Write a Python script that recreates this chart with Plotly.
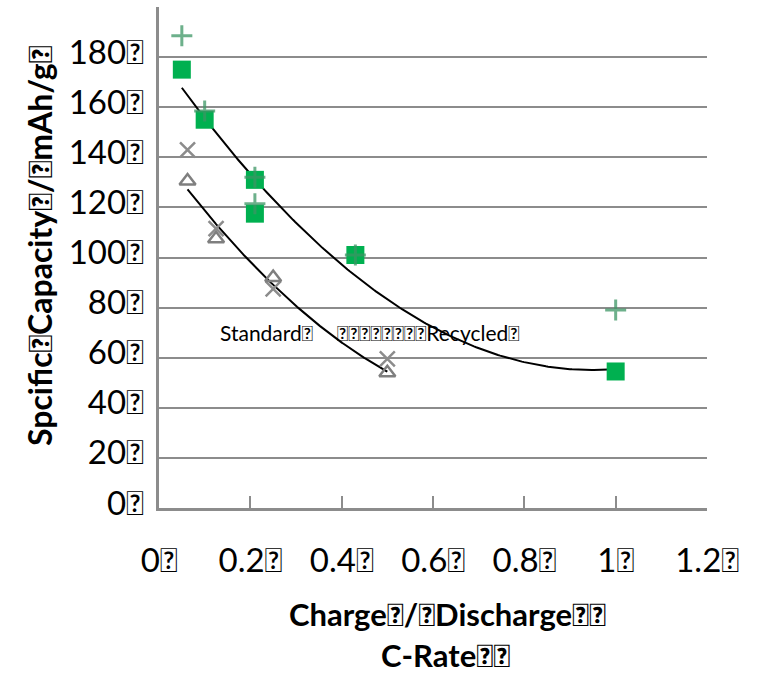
import numpy as np
import plotly.graph_objects as go

T = "\ue000"  # glyph missing from fonts -> renders as a box

# Recycled (green) series
rec_sq_x = [0.05, 0.10, 0.21, 0.21, 0.43, 1.00]
rec_sq_y = [175, 155, 131, 117.5, 101, 54.5]
rec_pl_x = [0.05, 0.10, 0.21, 0.21, 0.43, 1.00]
rec_pl_y = [188.5, 158.5, 132, 121.5, 101, 79]

# Standard (gray) series
std_x_x = [0.0625, 0.125, 0.25, 0.50]
std_x_y = [143, 111.5, 87.5, 59.5]
std_tr_x = [0.0625, 0.125, 0.25, 0.50]
std_tr_y = [130.5, 107.5, 92, 54]

x_ticks = [0, 0.2, 0.4, 0.6, 0.8, 1.0, 1.2]
x_tick_text = ["0", "0.2", "0.4", "0.6", "0.8", "1", "1.2"]
y_ticks = [0, 20, 40, 60, 80, 100, 120, 140, 160, 180]

FONT = "Lato"

def trend(xs, ys):
    c = np.polyfit(xs, ys, 2)
    xx = np.linspace(min(xs), max(xs), 200)
    return xx, np.polyval(c, xx)

fig = go.Figure()

tx, ty = trend(rec_sq_x, rec_sq_y)
fig.add_trace(go.Scatter(x=tx, y=ty, mode="lines", line=dict(color="black", width=2), showlegend=False))
tx, ty = trend(std_tr_x, std_tr_y)
fig.add_trace(go.Scatter(x=tx, y=ty, mode="lines", line=dict(color="black", width=2), showlegend=False))

fig.add_trace(go.Scatter(x=rec_sq_x, y=rec_sq_y, mode="markers",
                         marker=dict(symbol="square", size=18, color="#00B050", line=dict(width=0)),
                         showlegend=False))
fig.add_trace(go.Scatter(x=rec_pl_x, y=rec_pl_y, mode="markers",
                         marker=dict(symbol="cross-thin-open", size=15, color="rgba(60,150,100,0.75)",
                                     line=dict(width=3, color="rgba(60,150,100,0.75)")),
                         showlegend=False))
fig.add_trace(go.Scatter(x=std_x_x, y=std_x_y, mode="markers",
                         marker=dict(symbol="x-thin-open", size=15, color="#8C8C8C",
                                     line=dict(width=2.5, color="#8C8C8C")),
                         showlegend=False))
fig.add_trace(go.Scatter(x=std_tr_x, y=std_tr_y, mode="markers",
                         marker=dict(symbol="triangle-up-open", size=14, color="#7F7F7F",
                                     line=dict(width=2.5, color="#7F7F7F")),
                         showlegend=False))

fig.update_layout(
    width=765, height=674,
    margin=dict(l=159, r=58, t=7, b=166),
    paper_bgcolor="white", plot_bgcolor="white",
    font=dict(family=FONT, color="black"),
    xaxis=dict(range=[0, 1.2], tickvals=x_ticks, ticktext=[t + T for t in x_tick_text],
               ticks="inside", ticklen=12, tickwidth=2, tickcolor="#8C8C8C",
               showgrid=False, zeroline=False, showline=True, linecolor="#8C8C8C", linewidth=2.5,
               tickfont=dict(size=33, family=FONT), ticklabelstandoff=22),
    yaxis=dict(range=[0, 200], tickvals=y_ticks, ticktext=[str(v) + T for v in y_ticks],
               ticks="", showgrid=True, gridcolor="#8C8C8C", gridwidth=2, zeroline=False,
               showline=True, linecolor="#8C8C8C", linewidth=2.5,
               tickfont=dict(size=33, family=FONT), ticklabelstandoff=6, ticklabelshift=-5),
)

fig.add_annotation(text="<b>Spcific" + T + "Capacity" + T + "/" + T + "mAh/g" + T + "</b>",
                   xref="paper", yref="paper", x=-159/548 + 40/548, y=(508-246)/501,
                   textangle=-90, showarrow=False, font=dict(size=32, family=FONT, color="black"),
                   xanchor="center", yanchor="middle")
fig.add_annotation(text="<b>Charge" + T + "/" + T + "Discharge" + T + T + "</b>",
                   xref="paper", yref="paper", x=(447-159)/548, y=-(614-508)/501,
                   showarrow=False, font=dict(size=31, family=FONT, color="black"),
                   xanchor="center", yanchor="middle")
fig.add_annotation(text="<b>C-Rate" + T + T + "</b>",
                   xref="paper", yref="paper", x=(445-159)/548, y=-(655-508)/501,
                   showarrow=False, font=dict(size=31, family=FONT, color="black"),
                   xanchor="center", yanchor="middle")
fig.add_annotation(text="Standard" + T, x=0.235, y=70, showarrow=False,
                   font=dict(size=21, family=FONT, color="black"), xanchor="center", yanchor="middle")
fig.add_annotation(text=T * 8 + "Recycled" + T, x=0.59, y=70, showarrow=False,
                   font=dict(size=21, family=FONT, color="black"), xanchor="center", yanchor="middle")

fig.write_html("out.html")
